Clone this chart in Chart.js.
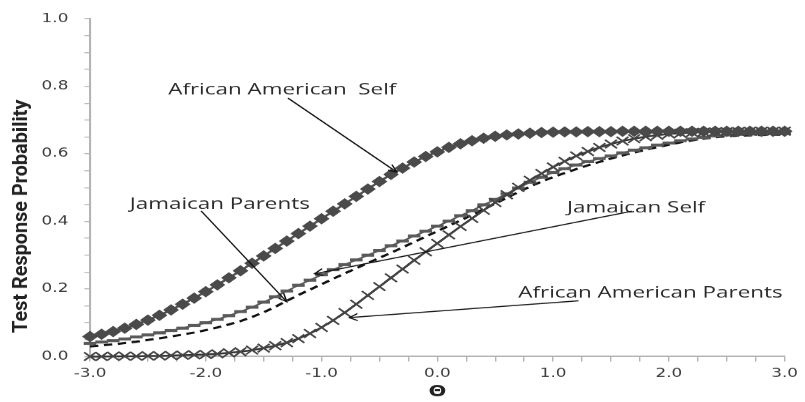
<!DOCTYPE html>
<html>
<head>
<meta charset="utf-8">
<script src="https://cdn.jsdelivr.net/npm/chart.js@4.4.1/dist/chart.umd.min.js"></script>
<style>
  html, body { margin: 0; padding: 0; background: #fff; overflow: hidden; }
  /* the figure is drawn narrow and widened horizontally */
  #wrap { width: 575px; height: 402px; transform: scaleX(1.4); transform-origin: 0 0; }
</style>
</head>
<body>
<div id="wrap"><canvas id="c" width="575" height="402"></canvas></div>
<script>
const STRETCH = 1.4;

// ability levels (theta)
const theta = [
  -3.0, -2.9, -2.8, -2.7, -2.6, -2.5, -2.4, -2.3, -2.2, -2.1,
  -2.0, -1.9, -1.8, -1.7, -1.6, -1.5, -1.4, -1.3, -1.2, -1.1,
  -1.0, -0.9, -0.8, -0.7, -0.6, -0.5, -0.4, -0.3, -0.2, -0.1,
   0.0,  0.1,  0.2,  0.3,  0.4,  0.5,  0.6,  0.7,  0.8,  0.9,
   1.0,  1.1,  1.2,  1.3,  1.4,  1.5,  1.6,  1.7,  1.8,  1.9,
   2.0,  2.1,  2.2,  2.3,  2.4,  2.5,  2.6,  2.7,  2.8,  2.9,
   3.0
];

const aaSelf = [
  0.059, 0.066, 0.074, 0.084, 0.095, 0.108, 0.122, 0.138, 0.155, 0.173,
  0.192, 0.212, 0.233, 0.254, 0.276, 0.298, 0.320, 0.342, 0.364, 0.386,
  0.408, 0.430, 0.452, 0.474, 0.496, 0.518, 0.539, 0.558, 0.576, 0.592,
  0.606, 0.619, 0.630, 0.639, 0.646, 0.652, 0.656, 0.659, 0.661, 0.663,
  0.664, 0.665, 0.665, 0.666, 0.666, 0.666, 0.667, 0.667, 0.667, 0.667,
  0.667, 0.667, 0.667, 0.667, 0.667, 0.667, 0.667, 0.667, 0.667, 0.667,
  0.667
];

const aaParents = [
  0.000, 0.000, 0.001, 0.001, 0.001, 0.002, 0.002, 0.003, 0.004, 0.005,
  0.006, 0.008, 0.011, 0.014, 0.019, 0.025, 0.032, 0.041, 0.053, 0.068,
  0.086, 0.107, 0.130, 0.155, 0.181, 0.207, 0.233, 0.259, 0.285, 0.310,
  0.335, 0.360, 0.385, 0.409, 0.433, 0.456, 0.479, 0.501, 0.522, 0.542,
  0.561, 0.578, 0.594, 0.607, 0.619, 0.629, 0.638, 0.645, 0.651, 0.655,
  0.659, 0.661, 0.663, 0.664, 0.665, 0.666, 0.666, 0.667, 0.667, 0.667,
  0.667
];

const jamSelf = [
  0.039, 0.043, 0.047, 0.052, 0.058, 0.064, 0.070, 0.077, 0.084, 0.092,
  0.100, 0.110, 0.121, 0.133, 0.146, 0.161, 0.177, 0.194, 0.211, 0.226,
  0.242, 0.257, 0.272, 0.286, 0.300, 0.314, 0.328, 0.342, 0.357, 0.371,
  0.386, 0.401, 0.417, 0.432, 0.449, 0.465, 0.482, 0.499, 0.516, 0.531,
  0.545, 0.556, 0.567, 0.577, 0.586, 0.594, 0.603, 0.611, 0.618, 0.626,
  0.632, 0.639, 0.644, 0.649, 0.653, 0.656, 0.658, 0.659, 0.659, 0.660,
  0.660
];

const jamParents = [
  0.030, 0.033, 0.036, 0.040, 0.044, 0.049, 0.054, 0.059, 0.065, 0.071,
  0.078, 0.086, 0.095, 0.105, 0.117, 0.131, 0.147, 0.165, 0.182, 0.198,
  0.214, 0.230, 0.246, 0.261, 0.277, 0.292, 0.307, 0.323, 0.339, 0.355,
  0.371, 0.387, 0.403, 0.419, 0.436, 0.453, 0.470, 0.487, 0.503, 0.518,
  0.531, 0.543, 0.555, 0.566, 0.576, 0.586, 0.595, 0.604, 0.612, 0.620,
  0.627, 0.634, 0.640, 0.645, 0.649, 0.652, 0.654, 0.655, 0.656, 0.657,
  0.657
];

// labelled tick values
const xMajor = [-3, -2, -1, 0, 1, 2, 3];
const yMajor = [0, 0.2, 0.4, 0.6, 0.8, 1.0];

const yTitle = 'Test Response Probability';
const xTitle = 'Θ';

// callout text with arrows, placed in data units
const callouts = [
  { text: 'African American  Self',   at: [-1.339, 0.776], from: [-1.29, 0.765], to: [-0.35, 0.546] },
  { text: 'Jamaican Parents',          at: [-1.879, 0.437], from: [-2.04, 0.431], to: [-1.30, 0.162] },
  { text: 'Jamaican Self',             at: [ 1.717, 0.426], from: [ 1.68, 0.430], to: [-1.06, 0.245] },
  { text: 'African American Parents',  at: [ 1.841, 0.175], from: [ 1.22, 0.165], to: [-0.76, 0.115] }
];

const pairs = ys => theta.map((t, i) => ({ x: t, y: ys[i] }));

function labelFor(list) {
  return v => {
    const m = list.find(k => Math.abs(k - v) < 1e-6);
    return m === undefined ? '' : m.toFixed(1);
  };
}

// arrow drawn so that its head looks right after the horizontal widening
function drawArrow(ctx, x1, y1, x2, y2) {
  ctx.beginPath();
  ctx.moveTo(x1, y1);
  ctx.lineTo(x2, y2);
  ctx.stroke();
  const a = Math.atan2(y2 - y1, (x2 - x1) * STRETCH);
  const L = 9, w = 0.4;
  const p1 = [x2 - L * Math.cos(a - w) / STRETCH, y2 - L * Math.sin(a - w)];
  const p2 = [x2 - L * Math.cos(a + w) / STRETCH, y2 - L * Math.sin(a + w)];
  ctx.beginPath();
  ctx.moveTo(p1[0], p1[1]);
  ctx.lineTo(x2, y2);
  ctx.lineTo(p2[0], p2[1]);
  ctx.stroke();
}

const decorations = {
  id: 'decorations',
  afterDraw(chart) {
    const { ctx, scales: { x, y }, chartArea } = chart;
    ctx.save();

    // callouts
    ctx.strokeStyle = '#111';
    ctx.lineWidth = 1.1;
    ctx.fillStyle = '#2b2b2b';
    ctx.font = '16px "Open Sans"';
    ctx.textAlign = 'center';
    ctx.textBaseline = 'alphabetic';
    callouts.forEach(c => {
      ctx.fillText(c.text, x.getPixelForValue(c.at[0]), y.getPixelForValue(c.at[1]));
      drawArrow(ctx,
        x.getPixelForValue(c.from[0]), y.getPixelForValue(c.from[1]),
        x.getPixelForValue(c.to[0]), y.getPixelForValue(c.to[1]));
    });

    // y axis title
    ctx.save();
    ctx.translate(15.5, 216);
    ctx.rotate(-Math.PI / 2);
    ctx.font = 'bold 14px Roboto';
    ctx.fillStyle = '#222';
    ctx.textAlign = 'center';
    ctx.textBaseline = 'middle';
    const w = ctx.measureText(yTitle).width;
    ctx.scale(233 / w, 1);
    ctx.fillText(yTitle, 0, 0);
    ctx.restore();

    // x axis title
    ctx.font = 'bold 15px "DejaVu Sans"';
    ctx.fillStyle = '#222';
    ctx.textAlign = 'center';
    ctx.textBaseline = 'middle';
    ctx.fillText(xTitle, (chartArea.left + chartArea.right) / 2, 392);

    ctx.restore();
  }
};

const axisGrey = '#b4b4b4';

new Chart(document.getElementById('c'), {
  type: 'line',
  data: {
    datasets: [
      {
        label: 'African American Self',
        data: pairs(aaSelf),
        borderColor: '#505050',
        borderWidth: 2,
        pointStyle: 'rectRot',
        pointRadius: 5,
        pointBackgroundColor: '#4a4a4a',
        pointBorderColor: '#4a4a4a',
        pointBorderWidth: 1,
        clip: false
      },
      {
        label: 'African American Parents',
        data: pairs(aaParents),
        borderColor: '#333',
        borderWidth: 1.8,
        pointStyle: 'crossRot',
        pointRadius: 6,
        pointBorderColor: '#444',
        pointBorderWidth: 1.5,
        clip: false
      },
      {
        label: 'Jamaican Self',
        data: pairs(jamSelf),
        borderColor: '#555',
        borderWidth: 1.5,
        pointStyle: 'line',
        pointRadius: 4.5,
        pointBorderColor: '#5a5a5a',
        pointBorderWidth: 3,
        clip: false
      },
      {
        label: 'Jamaican Parents',
        data: pairs(jamParents),
        borderColor: '#111',
        borderWidth: 2.2,
        borderDash: [6, 4],
        pointRadius: 0,
        clip: false
      }
    ]
  },
  options: {
    responsive: false,
    animation: false,
    devicePixelRatio: 1.4,
    layout: { padding: { top: 17, right: 10, left: 0, bottom: 0 } },
    elements: { line: { tension: 0 } },
    plugins: { legend: { display: false }, tooltip: { enabled: false } },
    scales: {
      x: {
        type: 'linear',
        min: -3,
        max: 3,
        afterFit: s => { s.height = 46; },
        ticks: {
          stepSize: 0.25,
          autoSkip: false,
          maxRotation: 0,
          padding: 5,
          color: '#3c3c3c',
          font: { family: '"DejaVu Sans"', size: 12 },
          callback: labelFor(xMajor)
        },
        grid: { drawOnChartArea: false, drawTicks: true, tickLength: 5, tickColor: axisGrey, tickWidth: 1 },
        border: { display: true, color: axisGrey, width: 1.5 }
      },
      y: {
        min: 0,
        max: 1,
        afterFit: s => { s.width = 64.3; },
        ticks: {
          stepSize: 0.05,
          autoSkip: false,
          padding: 11.5,
          color: '#3c3c3c',
          font: { family: '"DejaVu Sans"', size: 12 },
          callback: labelFor(yMajor)
        },
        grid: { drawOnChartArea: false, drawTicks: true, tickLength: 4, tickColor: axisGrey, tickWidth: 1 },
        border: { display: true, color: axisGrey, width: 1.5 }
      }
    }
  },
  plugins: [decorations]
});
</script>
</body>
</html>
